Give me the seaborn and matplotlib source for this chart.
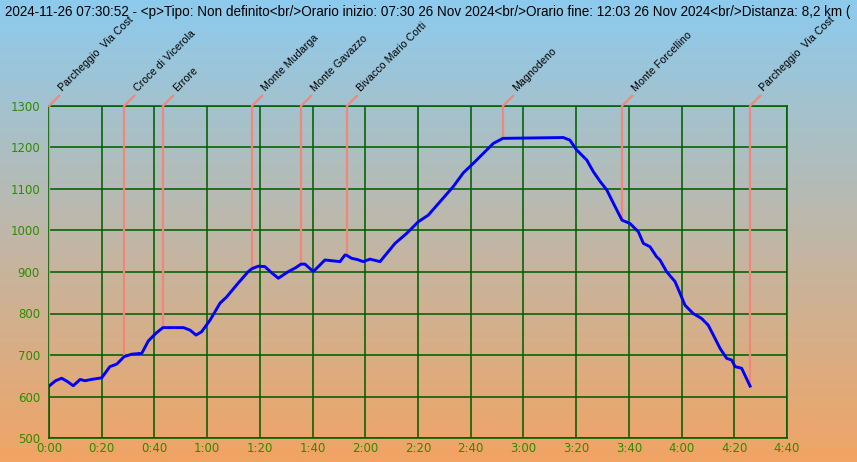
import numpy as np
import pandas as pd
import matplotlib
matplotlib.use('Agg')
import matplotlib.pyplot as plt
import seaborn as sns

minutes = [0, 2.5, 4.8, 7, 9.2, 11.8, 13.7, 16, 20, 23.1, 25.7, 28.5, 31.4, 35.2, 37.7, 40.5,
           43.2, 51, 53.5, 55.8, 57.9, 61.1, 64.9, 67.4, 71.2, 75.6, 77, 79.4, 81.9, 84.5, 87,
           90.8, 93.5, 95.6, 97.1, 100.3, 104.7, 110.4, 112.3, 113, 114.8, 117, 119.2, 121.8,
           125.6, 131.3, 135.7, 140.1, 143.9, 148.3, 153.4, 157.2, 161, 164.8, 168.6, 172.2,
           195.1, 197.6, 200.2, 204, 206.5, 209, 211.6, 214.1, 217.4, 220.4, 223.6, 225.5, 228,
           230.5, 231.8, 234.3, 237.5, 239.4, 241.3, 244.4, 247.6, 250.1, 252.7, 254.6, 257.1,
           259, 260.3, 262.8, 266]
elevation = [625, 638, 644, 636, 626, 641, 638, 641, 645, 672, 678, 696, 702, 704, 734, 752,
             766, 766, 760, 748, 756, 784, 825, 840, 869, 901, 908, 914, 913, 898, 885,
             901, 910, 919, 919, 901, 929, 925, 941, 940, 933, 930, 925, 931,
             925, 969, 993, 1021, 1037, 1069, 1106, 1139, 1162, 1186, 1210, 1222,
             1224, 1218, 1194, 1170, 1142, 1119, 1098, 1066, 1025, 1017, 997, 969, 961,
             937, 929, 901, 877, 849, 820, 800, 788, 772, 740, 716, 692,
             688, 672, 668, 625]

wp_minutes = [0, 28.5, 43.2, 77, 95.6, 113, 172.2, 217.4, 266]
wp_names = ["Parcheggio  Via Cost", "Croce di Vicerola", "Errore", "Monte Mudarga",
            "Monte Gavazzo", "Bivacco Mario Corti", "Magnodeno", "Monte Forcellino",
            "Parcheggio  Via Cost"]

x_ticks = [0, 20, 40, 60, 80, 100, 120, 140, 160, 180, 200, 220, 240, 260, 280]
x_labels = ["0:00", "0:20", "0:40", "1:00", "1:20", "1:40", "2:00", "2:20", "2:40",
            "3:00", "3:20", "3:40", "4:00", "4:20", "4:40"]
y_ticks = [500, 600, 700, 800, 900, 1000, 1100, 1200, 1300]

title = ("2024-11-26 07:30:52 - <p>Tipo: Non definito<br/>Orario inizio: 07:30 26 Nov 2024"
         "<br/>Orario fine: 12:03 26 Nov 2024<br/>Distanza: 8,2 km (")

W, H = 857, 462
fig = plt.figure(figsize=(W / 100, H / 100), dpi=100)

# gradient background
bg = fig.add_axes([0, 0, 1, 1], zorder=-10)
top = np.array([140, 203, 238]) / 255
bot = np.array([241, 164, 100]) / 255
f = np.linspace(0, 1, 256)[:, None]
grad = top[None, :] * (1 - f) + bot[None, :] * f
bg.imshow(grad[:, None, :], aspect='auto', extent=[0, 1, 0, 1])
bg.set_axis_off()

ax = fig.add_axes([49 / W, 1 - 438 / H, 738 / W, 332 / H])
ax.set_facecolor('none')

grid_c = '#005f00'
tick_c = '#2f8a00'
salmon = '#f0887a'

df = pd.DataFrame({'minutes': minutes, 'elevation': elevation})

wp_elev = np.interp(wp_minutes, minutes, elevation)
ax.vlines(wp_minutes, wp_elev, 1300, color=salmon, lw=1.6, zorder=3)
for t, name in zip(wp_minutes, wp_names):
    ax.annotate('', xy=(t, 1300), xytext=(7.5, 7.5), textcoords='offset points',
                arrowprops=dict(arrowstyle='-', color=salmon, lw=1.6, shrinkA=0, shrinkB=0),
                annotation_clip=False)
    ax.annotate(name, xy=(t, 1300), xytext=(11, 9), textcoords='offset points',
                rotation=45, rotation_mode='anchor', ha='left', va='bottom',
                fontsize=7.7, family='Liberation Sans', color='black', annotation_clip=False)

sns.lineplot(data=df, x='minutes', y='elevation', color='#0000ff', lw=2.1, ax=ax, zorder=4)

ax.set_xlim(0, 280)
ax.set_ylim(500, 1300)
ax.set_xticks(x_ticks)
ax.set_xticklabels(x_labels)
ax.set_yticks(y_ticks)
ax.set_axisbelow(True)
ax.grid(True, color=grid_c, lw=1.15)
for s in ax.spines.values():
    s.set_color(grid_c)
    s.set_linewidth(1.15)
ax.tick_params(axis='both', length=0, colors=tick_c, labelsize=8.5)
ax.tick_params(axis='y', pad=6.5)
ax.tick_params(axis='x', pad=3)
ax.set_xlabel('')
ax.set_ylabel('')

fig.text(5 / W, 1 - 12 / H, title, ha='left', va='center', fontsize=9.75,
         family='Liberation Sans', color='black')

fig.savefig('out.png', dpi=100)
